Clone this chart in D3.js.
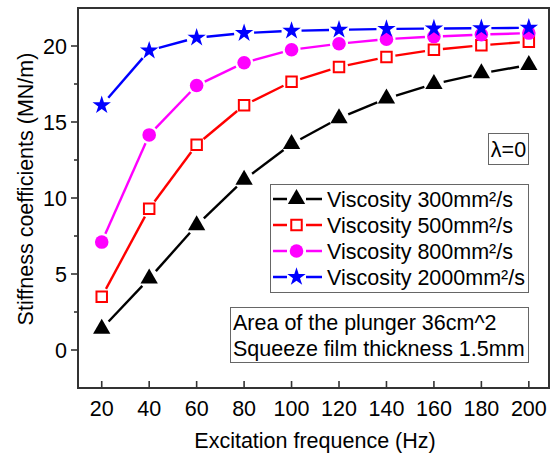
<!DOCTYPE html>
<html>
<head>
<meta charset="utf-8">
<script src="https://cdn.jsdelivr.net/npm/d3@7"></script>
<style>
  body { margin: 0; background: #fff; }
  text { font-family: Arial, "Liberation Sans", sans-serif; fill: #000; font-size: 21.5px; }
</style>
</head>
<body>
<script>
var width = 553;
var height = 454;

// data
var freq = [20, 40, 60, 80, 100, 120, 140, 160, 180, 200];
var visc300  = [1.4, 4.7, 8.2, 11.2, 13.55, 15.25, 16.55, 17.5, 18.2, 18.75];
var visc500  = [3.5, 9.3, 13.5, 16.1, 17.65, 18.62, 19.28, 19.75, 20.05, 20.28];
var visc800  = [7.1, 14.15, 17.4, 18.9, 19.75, 20.15, 20.45, 20.62, 20.75, 20.85];
var visc2000 = [16.1, 19.7, 20.55, 20.85, 21.0, 21.07, 21.12, 21.15, 21.17, 21.2];
var seriesNames = ["Viscosity 300mm²/s", "Viscosity 500mm²/s", "Viscosity 800mm²/s", "Viscosity 2000mm²/s"];
var xTicks = [20, 40, 60, 80, 100, 120, 140, 160, 180, 200];
var yTicks = [0, 5, 10, 15, 20];
var yMinor = [2.5, 7.5, 12.5, 17.5];

var series = [
  {name: seriesNames[0], values: visc300,  color: "#000000", type: d3.symbolTriangle, size: 130, fill: "#000000", r: 8},
  {name: seriesNames[1], values: visc500,  color: "#ff0000", type: d3.symbolSquare,   size: 110, fill: "#ffffff", r: 7},
  {name: seriesNames[2], values: visc800,  color: "#ff00ff", type: d3.symbolCircle,   size: 145, fill: "#ff00ff", r: 7},
  {name: seriesNames[3], values: visc2000, color: "#0000ff", type: d3.symbolStar,     size: 105, fill: "#0000ff", r: 8}
];

var svg = d3.select("body").append("svg")
    .attr("width", width)
    .attr("height", height);

svg.append("rect").attr("width", width).attr("height", height).attr("fill", "#fff");

var x = d3.scaleLinear().domain([10, 208.5]).range([78, 549]);
var y = d3.scaleLinear().domain([-2.5, 22.5]).range([388, 8]);

// frame
svg.append("rect")
    .attr("x", x.range()[0]).attr("y", y.range()[1])
    .attr("width", x.range()[1] - x.range()[0])
    .attr("height", y.range()[0] - y.range()[1])
    .attr("fill", "none").attr("stroke", "#333").attr("stroke-width", 2);

// y axis, ticks outward
var yAxis = svg.append("g").attr("transform", "translate(" + x.range()[0] + ",0)");
yAxis.selectAll(".major").data(yTicks).enter().append("line")
    .attr("x1", -7).attr("x2", 0)
    .attr("y1", function (d) { return y(d); }).attr("y2", function (d) { return y(d); })
    .attr("stroke", "#333").attr("stroke-width", 1.6);
yAxis.selectAll(".minor").data(yMinor).enter().append("line")
    .attr("x1", -4).attr("x2", 0)
    .attr("y1", function (d) { return y(d); }).attr("y2", function (d) { return y(d); })
    .attr("stroke", "#333").attr("stroke-width", 1.6);
yAxis.selectAll("text").data(yTicks).enter().append("text")
    .attr("x", -11)
    .attr("y", function (d) { return y(d) + 7.5; })
    .attr("text-anchor", "end")
    .text(function (d) { return d; });

// x axis, ticks inward
var xAxis = svg.append("g").attr("transform", "translate(0," + y.range()[0] + ")");
xAxis.selectAll("line").data(xTicks).enter().append("line")
    .attr("x1", function (d) { return x(d); }).attr("x2", function (d) { return x(d); })
    .attr("y1", -7).attr("y2", 0)
    .attr("stroke", "#333").attr("stroke-width", 1.6);
xAxis.selectAll("text").data(xTicks).enter().append("text")
    .attr("x", function (d) { return x(d); })
    .attr("y", 28)
    .attr("text-anchor", "middle")
    .text(function (d) { return d; });

// axis titles
svg.append("text")
    .attr("transform", "translate(33,189) rotate(-90)")
    .attr("text-anchor", "middle")
    .text("Stiffness coefficients (MN/m)");
svg.append("text")
    .attr("x", 315).attr("y", 448)
    .attr("text-anchor", "middle")
    .text("Excitation frequence (Hz)");

// lines with small gaps around the symbols
function gapSegments(vals, gap) {
  var segs = [];
  for (var i = 0; i < vals.length - 1; i++) {
    var x0 = x(freq[i]), y0 = y(vals[i]), x1 = x(freq[i + 1]), y1 = y(vals[i + 1]);
    var dx = x1 - x0, dy = y1 - y0, len = Math.sqrt(dx * dx + dy * dy);
    if (len <= 2 * gap) continue;
    var ux = dx / len, uy = dy / len;
    segs.push({x1: x0 + ux * gap, y1: y0 + uy * gap, x2: x1 - ux * gap, y2: y1 - uy * gap});
  }
  return segs;
}

var plot = svg.append("g");
series.forEach(function (s) {
  plot.append("g").selectAll("line")
      .data(gapSegments(s.values, s.r + 2))
    .enter().append("line")
      .attr("x1", function (d) { return d.x1; }).attr("y1", function (d) { return d.y1; })
      .attr("x2", function (d) { return d.x2; }).attr("y2", function (d) { return d.y2; })
      .attr("stroke", s.color).attr("stroke-width", 2.4);
});
series.forEach(function (s) {
  plot.append("g").selectAll("path")
      .data(s.values)
    .enter().append("path")
      .attr("transform", function (d, i) { return "translate(" + x(freq[i]) + "," + y(d) + ")"; })
      .attr("d", d3.symbol().type(s.type).size(s.size))
      .attr("fill", s.fill)
      .attr("stroke", s.type === d3.symbolSquare ? s.color : "none")
      .attr("stroke-width", 2);
});

// lambda box
svg.append("rect")
    .attr("x", 488.5).attr("y", 133.5).attr("width", 40).attr("height", 31)
    .attr("fill", "#fff").attr("stroke", "#666").attr("stroke-width", 1);
svg.append("text")
    .attr("x", 508.5).attr("y", 156.5)
    .attr("text-anchor", "middle")
    .text("λ=0");

// legend
var legend = svg.append("g");
legend.append("rect")
    .attr("x", 270.5).attr("y", 184.5).attr("width", 258).attr("height", 108)
    .attr("fill", "#fff").attr("stroke", "#666").attr("stroke-width", 1);
var item = legend.selectAll(".item").data(series).enter().append("g")
    .attr("transform", function (d, i) { return "translate(0," + (199 + i * 26) + ")"; });
item.append("line")
    .attr("x1", 273).attr("x2", 322).attr("y1", 0).attr("y2", 0)
    .attr("stroke", function (d) { return d.color; }).attr("stroke-width", 2.4);
item.append("rect")
    .attr("x", 287).attr("y", -9).attr("width", 19).attr("height", 18)
    .attr("fill", "#fff");
item.append("path")
    .attr("transform", "translate(296.5,0)")
    .attr("d", function (d) { return d3.symbol().type(d.type).size(d.size)(); })
    .attr("fill", function (d) { return d.fill; })
    .attr("stroke", function (d) { return d.type === d3.symbolSquare ? d.color : "none"; })
    .attr("stroke-width", 2);
item.append("text")
    .attr("x", 327).attr("y", 7.5)
    .text(function (d) { return d.name; });

// note box
svg.append("rect")
    .attr("x", 230.5).attr("y", 307.5).attr("width", 298).attr("height", 55)
    .attr("fill", "#fff").attr("stroke", "#666").attr("stroke-width", 1);
svg.append("text").attr("x", 233).attr("y", 330)
    .text("Area of the plunger 36cm^2");
svg.append("text").attr("x", 233).attr("y", 356)
    .text("Squeeze film thickness 1.5mm");
</script>
</body>
</html>
